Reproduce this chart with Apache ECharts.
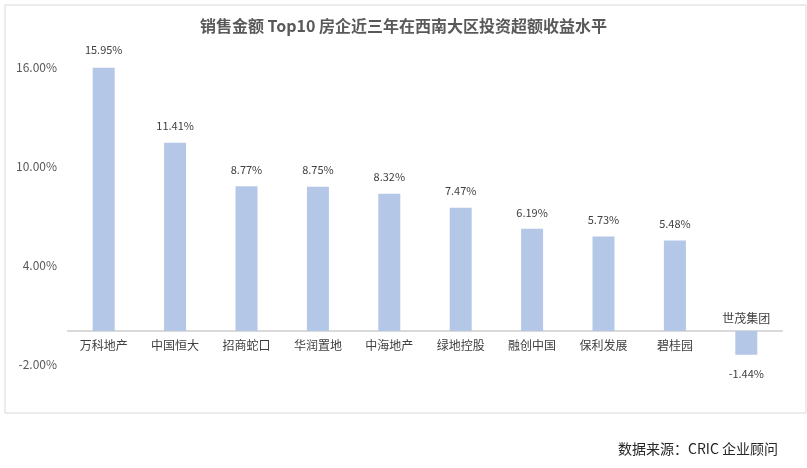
<!DOCTYPE html>
<html>
<head>
<meta charset="utf-8">
<style>
html,body{margin:0;padding:0;background:#fff;}
#c{width:807px;height:468px;}
</style>
<script src="https://cdn.jsdelivr.net/npm/echarts@6/dist/echarts.min.js"></script>
</head>
<body>
<div id="c"></div>
<script>
var categories = ['万科地产','中国恒大','招商蛇口','华润置地','中海地产','绿地控股','融创中国','保利发展','碧桂园','世茂集团'];
var values = [15.95, 11.41, 8.77, 8.75, 8.32, 7.47, 6.19, 5.73, 5.48, -1.44];
var yTicks = [-2, 4, 10, 16];

var font = '"Microsoft YaHei","Noto Sans CJK SC","Noto Sans",sans-serif';
var chart = echarts.init(document.getElementById('c'));

var valueData = values.map(function (v, i) {
  if (v < 0) return { value: v, label: { position: 'bottom', distance: 14 } };
  if (i === 0) return { value: v, label: { distance: 13 } };
  return { value: v };
});
var nameData = values.map(function (v) {
  return v < 0
    ? { value: v, label: { position: 'top', distance: 7 } }
    : { value: v };
});

chart.setOption({
  animation: false,
  title: {
    text: '销售金额 Top10 房企近三年在西南大区投资超额收益水平',
    left: 'center',
    top: 13,
    textStyle: { fontFamily: font, fontSize: 16, fontWeight: 'bold', color: '#595959' }
  },
  graphic: [
    { type: 'rect', left: 2.5, top: 2.5, shape: { width: 801, height: 408 },
      style: { fill: 'none', stroke: '#D9D9D9', lineWidth: 1 } },
    { type: 'text', right: 29, top: 442,
      style: { text: '数据来源：CRIC 企业顾问', fontFamily: font, fontSize: 14, fill: '#262626' } }
  ],
  grid: { left: 68, right: 25, top: 67, bottom: 104 },
  xAxis: {
    type: 'category',
    data: categories,
    axisLine: { show: true, onZero: true, lineStyle: { color: '#D9D9D9', width: 2 } },
    axisTick: { show: false },
    axisLabel: { show: false }
  },
  yAxis: {
    type: 'value',
    min: -2, max: 16, interval: 2,
    axisLine: { show: false },
    axisTick: { show: false },
    splitLine: { show: false },
    axisLabel: {
      margin: 11,
      fontFamily: font, fontSize: 12, color: '#595959',
      formatter: function (v) {
        return yTicks.indexOf(v) >= 0 ? v.toFixed(2) + '%' : '';
      }
    }
  },
  series: [
    {
      type: 'bar',
      data: valueData,
      barWidth: 22,
      itemStyle: { color: '#B4C7E7' },
      label: {
        show: true, position: 'top', distance: 11,
        fontFamily: font, fontSize: 11, color: '#404040',
        formatter: function (p) { return p.value.toFixed(2) + '%'; }
      }
    },
    {
      type: 'bar',
      data: nameData,
      barWidth: 22,
      barGap: '-100%',
      silent: true,
      itemStyle: { color: 'rgba(0,0,0,0)' },
      label: {
        show: true, position: 'bottom', distance: 8,
        fontFamily: font, fontSize: 12, color: '#404040',
        formatter: '{b}'
      }
    }
  ]
});
</script>
</body>
</html>
